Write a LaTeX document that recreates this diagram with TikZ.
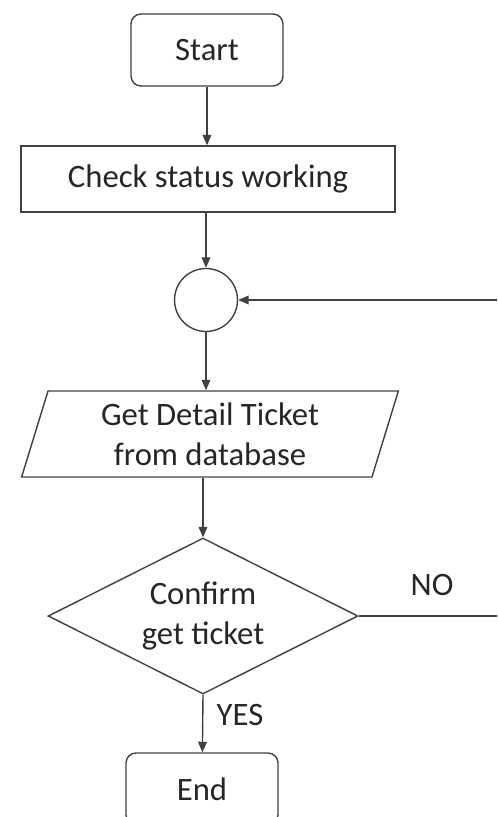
\documentclass[tikz,border=0pt]{standalone}
\usepackage{fontspec}
\setmainfont{Carlito}
\usetikzlibrary{shapes.geometric,arrows.meta}

\tikzset{
  terminal/.style={draw, rounded corners=0.2cm, minimum width=3.04cm, minimum height=1.44cm},
  process/.style={draw, minimum width=7.48cm, minimum height=1.32cm},
  iobox/.style={draw, trapezium, trapezium left angle=76, trapezium right angle=104,
    trapezium stretches=true, minimum width=7.54cm, minimum height=1.72cm, align=center},
  decision/.style={draw, diamond, shape aspect=2, minimum width=6.2cm, minimum height=3.12cm,
    inner sep=0pt, align=center},
  joint/.style={draw, circle, minimum size=1.26cm, inner sep=0pt},
  flow/.style={-{Triangle[length=6pt,width=5pt]}}
}

\begin{document}
\begin{tikzpicture}[x=0.02cm, y=-0.02cm, color=black!75, text=black!85,
    line width=0.8pt, font=\fontsize{18.6}{23}\selectfont]

    \useasboundingbox (0,0) rectangle (497,817);
    \clip (0,0) rectangle (497,817);

    \node[terminal] (start) at (207,50) {Start};
    \node[process] (check) at (208,179) {Check status working};
    \node[joint] (join) at (206,300) {};
    \node[iobox] (ticket) at (210,434) {Get Detail Ticket\\from database};
    \node[decision] (confirm) at (203,616) {Confirm\\get ticket};
    \node[terminal] (end) at (202,789) {End};

    \node (no) at (432,585) {NO};
    \node (yes) at (240,715) {YES};

    % lines running off the right side
    \coordinate (back) at (497,300);
    \coordinate (out) at (497,616);

    \draw[flow] (start) -- (start.south |- check.north);
    \draw[flow] (check.south -| join) -- (join);
    \draw[flow] (back) -- (join);
    \draw[flow] (join) -- (join.south |- ticket.north);
    \draw[flow] (ticket.south -| confirm.north) -- (confirm);
    \draw (confirm.east) -- (out);
    \draw[flow] (confirm.south) -- (end);

\end{tikzpicture}
\end{document}
